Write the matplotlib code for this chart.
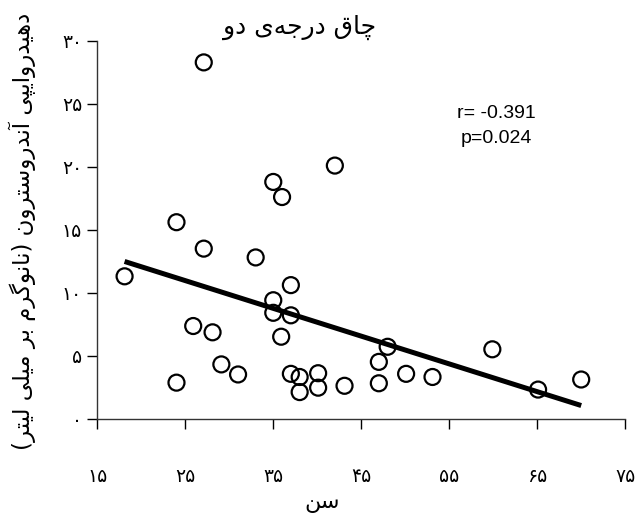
import numpy as np
import matplotlib
matplotlib.use("Agg")
import matplotlib.pyplot as plt

# ---------------- data ----------------
age = [18.1, 24.0, 24.0, 27.1, 27.1, 25.9, 28.1, 29.1, 31.0, 33.0,
       35.0, 36.0, 35.0, 35.0, 35.9, 37.0, 37.0, 37.0, 38.0, 38.0,
       40.1, 40.1, 42.0, 43.1, 47.0, 47.0, 48.0, 50.1, 53.1, 59.9,
       65.1, 70.0]
dhea = [11.3, 15.6, 2.85, 28.3, 13.5, 7.35, 6.85, 4.3, 3.5, 12.8,
        18.8, 17.6, 9.4, 8.4, 6.5, 10.6, 8.2, 3.55, 3.3, 2.1,
        3.6, 2.45, 20.1, 2.6, 4.5, 2.8, 5.7, 3.55, 3.3, 5.5,
        2.3, 3.1]
x_ticks = [15, 25, 35, 45, 55, 65, 75]
y_ticks = [0, 5, 10, 15, 20, 25, 30]
title_text = "چاق درجه\u200cی دو"
xlabel_text = "سن"
ylabel_text = "دهیدروایپی آندروسترون (نانوگرم بر میلی لیتر)"
stat_text = "r= -0.391\np=0.024"

# ------------- Arabic shaping helper -------------
FORMS = {  # isolated, final, initial, medial
    'ا': (0xFE8D, 0xFE8E, None, None),
    'آ': (0xFE81, 0xFE82, None, None),
    'ب': (0xFE8F, 0xFE90, 0xFE91, 0xFE92),
    'ت': (0xFE95, 0xFE96, 0xFE97, 0xFE98),
    'ج': (0xFE9D, 0xFE9E, 0xFE9F, 0xFEA0),
    'د': (0xFEA9, 0xFEAA, None, None),
    'ر': (0xFEAD, 0xFEAE, None, None),
    'س': (0xFEB1, 0xFEB2, 0xFEB3, 0xFEB4),
    'ق': (0xFED5, 0xFED6, 0xFED7, 0xFED8),
    'ل': (0xFEDD, 0xFEDE, 0xFEDF, 0xFEE0),
    'م': (0xFEE1, 0xFEE2, 0xFEE3, 0xFEE4),
    'ن': (0xFEE5, 0xFEE6, 0xFEE7, 0xFEE8),
    'ه': (0xFEE9, 0xFEEA, 0xFEEB, 0xFEEC),
    'و': (0xFEED, 0xFEEE, None, None),
    'ی': (0xFBFC, 0xFBFD, 0xFBFE, 0xFBFF),
    'چ': (0xFB7A, 0xFB7B, 0xFB7C, 0xFB7D),
    'پ': (0xFB56, 0xFB57, 0xFB58, 0xFB59),
    'گ': (0xFB92, 0xFB93, 0xFB94, 0xFB95),
}


def shape_rtl(s):
    out = []
    n = len(s)
    for i, c in enumerate(s):
        if c not in FORMS:
            if c != '\u200c':
                out.append(c)
            continue
        iso, fin, ini, med = FORMS[c]
        prev = s[i - 1] if i > 0 else ''
        nxt = s[i + 1] if i + 1 < n else ''
        jp = prev in FORMS and FORMS[prev][2] is not None
        jn = nxt in FORMS and ini is not None
        if jp and jn:
            code = med
        elif jp:
            code = fin
        elif jn:
            code = ini
        else:
            code = iso
        out.append(chr(code))
    out = out[::-1]
    swap = {'(': ')', ')': '('}
    return ''.join(swap.get(ch, ch) for ch in out)


def fa_digits(v):
    return ''.join(chr(0x06F0 + int(d)) for d in str(v))


# ---------------- figure ----------------
plt.rcParams['font.family'] = ['DejaVu Sans']
fig = plt.figure(figsize=(6.36, 5.17), dpi=100)
ax = fig.add_axes([0.153, 0.1905, 0.830, 0.7302])

ax.scatter(age, dhea, s=11.5 ** 2, facecolors='none', edgecolors='black',
           linewidths=1.6, zorder=3)

x = np.array(age)
y = np.array(dhea)
m, b = np.polyfit(x, y, 1)
xl = np.array([x.min(), x.max()])
ax.plot(xl, m * xl + b, color='black', lw=3.6, solid_capstyle='butt', zorder=2)

ax.set_xlim(15, 75)
ax.set_ylim(0, 30)
ax.set_xticks(x_ticks)
ax.set_yticks(y_ticks)
ax.set_xticklabels([fa_digits(v) for v in x_ticks], fontsize=13.5)
ax.set_yticklabels([fa_digits(v) for v in y_ticks], fontsize=13.5)
ax.tick_params(axis='x', direction='out', length=7, width=1, pad=28)
ax.tick_params(axis='y', direction='out', length=7, width=1, pad=4)
for sp in ['top', 'right']:
    ax.spines[sp].set_visible(False)
for sp in ['left', 'bottom']:
    ax.spines[sp].set_linewidth(1)
    ax.spines[sp].set_color('#333333')

fig.text(300 / 636, 1 - 27 / 517, shape_rtl(title_text), ha='center', va='center',
         fontsize=18)
fig.text(322 / 636, 1 - 503 / 517, shape_rtl(xlabel_text), ha='center', va='center',
         fontsize=16)
fig.text(22 / 636, 1 - 231 / 517, shape_rtl(ylabel_text), ha='center', va='center',
         rotation=90, fontsize=16.5)
fig.text(496 / 636, 1 - 126 / 517, stat_text, ha='center', va='center',
         fontsize=14, family='Liberation Sans', linespacing=1.65)

fig.savefig('out.png', dpi=100)
